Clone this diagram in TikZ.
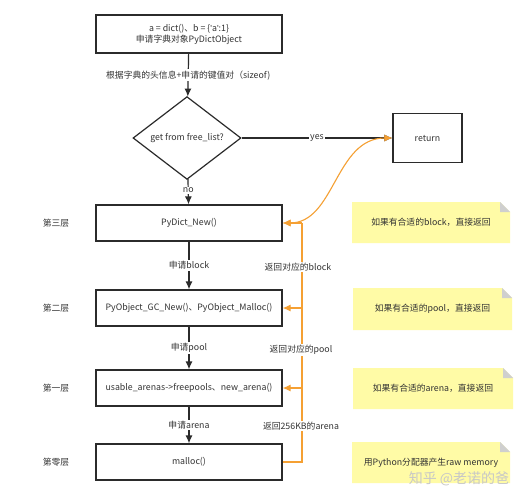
\documentclass[tikz,border=0pt]{standalone}
\usepackage{fontspec}
\setmainfont{Noto Sans CJK SC}
\newfontfamily\latinq{Liberation Sans}
\newcommand{\sq}{{\latinq\char"27}}
\usetikzlibrary{shapes.geometric,arrows.meta}
\definecolor{lineblk}{HTML}{2B2B2B}
\definecolor{orng}{HTML}{F5A033}
\definecolor{noteyel}{HTML}{FFFBA6}
\definecolor{foldgray}{HTML}{CFCFCF}
\definecolor{txtgray}{HTML}{333333}
\begin{document}
\begin{tikzpicture}[x=1pt,y=-1pt,
  font=\fontsize{8.8}{11}\selectfont,
  every node/.style={text=txtgray},
  procbox/.style={draw=lineblk,line width=1.2pt,minimum width=186pt,minimum height=36pt,inner sep=0pt,align=center},
  decide/.style={diamond,draw=lineblk,line width=1.2pt,minimum width=108pt,minimum height=69pt,inner sep=0pt},
  flow/.style={draw=lineblk,line width=1.2pt,-{Latex[length=8pt,width=7pt]}},
  ret/.style={draw=orng,line width=1.1pt,-{Latex[length=8pt,width=7pt]}},
  lbl/.style={fill=white,inner sep=1pt},
  layer/.style={inner sep=0pt},
  notetext/.style={inner sep=0pt}
]
\useasboundingbox (0,0) rectangle (530,500);
\fill[white] (0,0) rectangle (530,500);

% main boxes
\node[procbox,minimum height=38pt] (top) at (189,34) {a = dict()、b = \{\sq a\sq:1\}\\申请字典对象PyDictObject};
\node[decide] (dec) at (187,138) {get from free\_list?};
\node[procbox,minimum width=69pt,minimum height=49pt] (ret) at (427.5,138) {return};
\node[procbox] (b3) at (189,223) {PyDict\_New()};
\node[procbox] (b2) at (189,308) {PyObject\_GC\_New()、PyObject\_Malloc()};
\node[procbox] (b1) at (189,388) {usable\_arenas->freepools、new\_arena()};
\node[procbox] (b0) at (189,462) {malloc()};

% layer labels
\node[layer] (l3) at (56,223) {第三层};
\node[layer] (l2) at (56,308) {第二层};
\node[layer] (l1) at (56,388) {第一层};
\node[layer] (l0) at (56,462) {第零层};

% black flow
\draw[flow] (top) -- node[lbl] {根据字典的头信息+申请的键值对（sizeof)} (dec);
\draw[flow] (dec) -- node[lbl,pos=0.5] {yes} (ret);
\draw[flow] (dec) -- node[lbl,pos=0.45] {no} (b3);
\draw[flow] (b3) -- node[lbl] {申请block} (b2);
\draw[flow] (b2) -- node[lbl] {申请pool} (b1);
\draw[flow] (b1) -- node[lbl] {申请arena} (b0);

% orange return path
\coordinate (oc) at (302,462);
\draw[draw=orng,line width=1.1pt] (b0.east) -- (oc) -- (oc |- b3.east);
\draw[ret] (oc |- b3.east) -- (b3.east);
\draw[ret] (oc |- b2.east) -- (b2.east);
\draw[ret] (oc |- b1.east) -- (b1.east);
\node[lbl] (r3) at (298,267) {返回对应的block};
\node[lbl] (r2) at (301,350) {返回对应的pool};
\node[lbl] (r1) at (301,426) {返回256KB的arena};
\draw[draw=orng,line width=1.1pt,{Latex[length=8pt,width=7pt]}-{Latex[length=8pt,width=7pt]}]
  (b3.east) .. controls (335,223) and (335,138) .. (ret.west);

% notes
\foreach \nm/\xa/\ya/\xb/\yb/\txt in {
  n3/352/202/510/243/{如果有合适的block，直接返回},
  n2/353/288/512/330/{如果有合适的pool，直接返回},
  n1/353/368/513/409/{如果有合适的arena，直接返回},
  n0/352/442/510/483/{用Python分配器产生raw memory}}{
  \fill[noteyel] (\xa,\ya) -- (\xb-10,\ya) -- (\xb,\ya+10) -- (\xb,\yb) -- (\xa,\yb) -- cycle;
  \fill[foldgray] (\xb-10,\ya) -- (\xb,\ya+10) -- (\xb-10,\ya+10) -- cycle;
  \node[notetext] (\nm) at ({(\xa+\xb)/2},{(\ya+\yb)/2}) {\txt};
}

% watermark
\node[inner sep=0pt,text=black!22,font=\fontsize{14}{15}\selectfont] (wm) at (459,479) {知乎 @老诺的爸};
\end{tikzpicture}
\end{document}
